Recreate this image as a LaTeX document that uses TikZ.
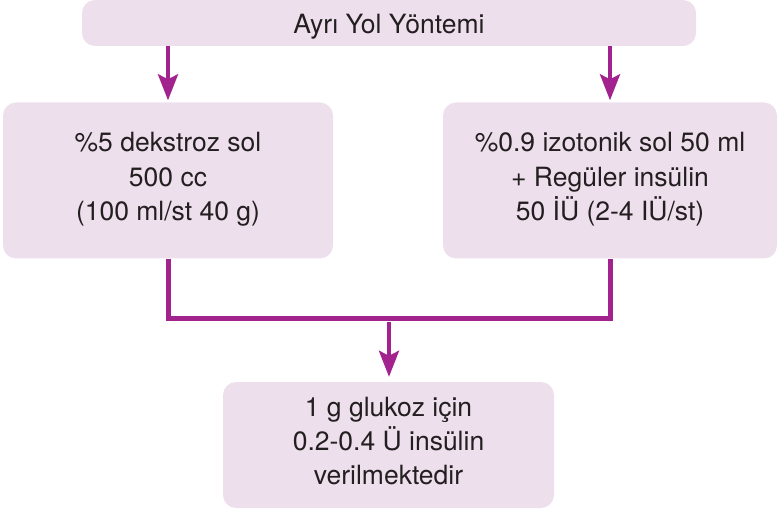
\documentclass[tikz,border=0pt]{standalone}
\usepackage{fontspec}
\setmainfont{TeX Gyre Heros}
\usetikzlibrary{arrows.meta}

\definecolor{boxpink}{HTML}{EEDFEC}
\definecolor{flowpurple}{HTML}{A2228E}
\definecolor{textgray}{HTML}{231F20}

\begin{document}
\begin{tikzpicture}[x=1pt,y=-1pt]
\tikzstyle{every node}+=[inner sep=0pt]
\tikzstyle{box}=[fill=boxpink, rounded corners=13pt, align=center, text=textgray,
  font=\fontsize{26.5}{34.3}\selectfont,
  execute at begin node={\rule{0pt}{30pt}}, execute at end node={\rule[-8pt]{0pt}{0pt}}]
\tikzstyle{arr}=[flowpurple, line width=4pt, -{Stealth[length=26pt,width=20pt,inset=5pt]}]
\tikzstyle{link}=[flowpurple, line width=5pt]
\useasboundingbox (0,0) rectangle (782,513);
\node [box, minimum width=614pt, minimum height=46pt] (yontem) at (389,23) {Ayrı Yol Yöntemi};
\node [box, minimum width=330pt, minimum height=156pt] (dekstroz) at (168,180.5)
  {\%5 dekstroz sol\\500 cc\\(100 ml/st 40 g)};
\node [box, minimum width=334pt, minimum height=156pt] (izotonik) at (610,180.5)
  {\%0.9 izotonik sol 50 ml\\+ Regüler insülin\\50 İÜ (2-4 IÜ/st)};
\node [box, minimum width=331pt, minimum height=126pt] (sonuc) at (388.5,445)
  {1 g glukoz için\\0.2-0.4 Ü insülin\\verilmektedir};
% arrows from the method box
\draw [arr, shorten >=2pt] (yontem.south -| dekstroz.north) -- (dekstroz.north);
\draw [arr, shorten >=2pt] (yontem.south -| izotonik.north) -- (izotonik.north);
% joining the two solutions
\coordinate (merge) at (389,322);
\draw [link] (dekstroz.south) -- ++(0,60) -| (izotonik.south);
\draw [arr, shorten >=5pt] (merge) -- (merge |- sonuc.north);
\end{tikzpicture}
\end{document}
